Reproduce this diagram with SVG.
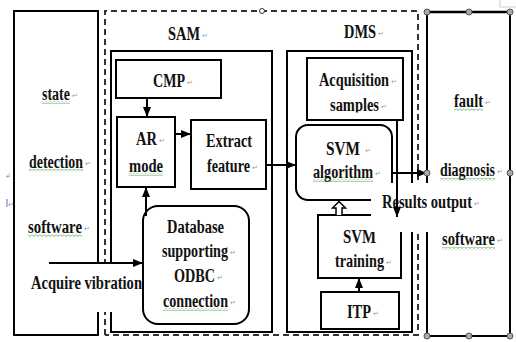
<svg xmlns="http://www.w3.org/2000/svg" width="516" height="342" viewBox="0 0 516 342">
  <style>
    .box { fill: none; stroke: #000; stroke-width: 2; }
    .dash { fill: none; stroke: #333; stroke-width: 2; stroke-dasharray: 6 4; }
    .t { font-family: "Liberation Serif", "Times New Roman", serif; font-weight: bold; font-size: 18.5px; fill: #111; }
    .pm { font-family: "DejaVu Sans", sans-serif; font-size: 7px; fill: #9a9a9a; }
    .wl { fill: url(#wavy); }
    .link { fill: none; stroke: #000; stroke-width: 2; }
    .arr { marker-end: url(#head); }
    .cover { fill: #fff; stroke: none; }
    .handle { fill: #aaa; stroke: #555; stroke-width: 1; }
  </style>
  <defs>
    <marker id="head" viewBox="0 0 10 8" refX="10" refY="4" markerWidth="10" markerHeight="8" markerUnits="userSpaceOnUse" orient="auto">
      <path d="M0,0 L10,4 L0,8 Z" fill="#000"/>
    </marker>
    <pattern id="wavy" width="4" height="3" patternUnits="userSpaceOnUse">
      <path d="M0,0.5 L2,2.5 L4,0.5" fill="none" stroke="#3a9a3a" stroke-width="0.8"/>
    </pattern>
    <clipPath id="clipSamples">
      <rect x="300" y="90" width="100" height="22.5"/>
    </clipPath>
  </defs>

  <rect width="516" height="342" fill="#fff"/>
  <!-- corner tab -->
  <path d="M500,0 V7 H516" fill="none" stroke="#ccc" stroke-width="1"/>

  <!-- state detection software -->
  <g id="stateDetection">
    <path class="box" d="M98,300 V11 H14 V335 H98 V300"/>
    <text class="t" x="42" y="100" textLength="28" lengthAdjust="spacingAndGlyphs">state</text>
    <text class="pm" x="72" y="98">↵</text>
    <rect class="wl" x="42" y="101" width="28" height="3"/>
    <text class="t" x="29" y="168" textLength="54" lengthAdjust="spacingAndGlyphs">detection</text>
    <text class="pm" x="85" y="166">↵</text>
    <rect class="wl" x="29" y="169" width="54" height="3"/>
    <text class="t" x="28" y="233" textLength="54" lengthAdjust="spacingAndGlyphs">software</text>
    <text class="pm" x="84" y="231">↵</text>
    <rect class="wl" x="28" y="234" width="54" height="3"/>
  </g>

  <!-- editor marks at left margin -->
  <text class="pm" x="5" y="178">↲</text>
  <path d="M7,199 V207" stroke="#4a7ad0" stroke-width="1"/>
  <text class="pm" x="8" y="207">↵</text>

  <!-- outer dashed frame -->
  <g id="frame">
    <path class="dash" d="M105,335 V11 H418 V335 H105"/>
    <circle cx="262" cy="11" r="2.5" fill="#fff" stroke="#333" stroke-width="1"/>
  </g>

  <!-- SAM -->
  <g id="sam">
    <path class="box" d="M111,300 V51 H272 V332 H111 V300"/>
    <text class="t" x="168" y="40" textLength="32" lengthAdjust="spacingAndGlyphs">SAM</text>
    <text class="pm" x="202" y="38">↵</text>
  </g>

  <g id="cmp">
    <rect class="box" x="116" y="60" width="105" height="38"/>
    <text class="t" x="153" y="87" textLength="32" lengthAdjust="spacingAndGlyphs">CMP</text>
    <text class="pm" x="187" y="85">↵</text>
  </g>

  <g id="arMode">
    <rect class="box" x="117" y="117" width="58" height="70"/>
    <text class="t" x="136" y="145" textLength="21" lengthAdjust="spacingAndGlyphs">AR</text>
    <text class="pm" x="159" y="143">↵</text>
    <text class="t" x="129" y="172" textLength="34" lengthAdjust="spacingAndGlyphs">mode</text>
    <rect class="wl" x="129" y="173" width="34" height="3"/>
  </g>

  <g id="extractFeature">
    <rect class="box" x="191" y="120" width="75" height="69"/>
    <text class="t" x="206" y="147" textLength="46" lengthAdjust="spacingAndGlyphs">Extract</text>
    <text class="t" x="207" y="172" textLength="43" lengthAdjust="spacingAndGlyphs">feature</text>
    <text class="pm" x="252" y="170">↵</text>
  </g>

  <g id="database">
    <rect class="box" x="143" y="206" width="106" height="118" rx="15" ry="15"/>
    <text class="t" x="167" y="233" textLength="57" lengthAdjust="spacingAndGlyphs">Database</text>
    <text class="t" x="162" y="257" textLength="66" lengthAdjust="spacingAndGlyphs">supporting</text>
    <text class="pm" x="230" y="255">↵</text>
    <text class="t" x="174" y="282" textLength="41" lengthAdjust="spacingAndGlyphs">ODBC</text>
    <text class="pm" x="217" y="280">↵</text>
    <text class="t" x="163" y="307" textLength="65" lengthAdjust="spacingAndGlyphs">connection</text>
    <text class="pm" x="230" y="305">↵</text>
    <rect class="wl" x="163" y="308" width="65" height="3"/>
  </g>

  <!-- DMS -->
  <g id="dms">
    <path class="box" d="M412,200 V51 H287 V332 H412 V200"/>
    <text class="t" x="344" y="38" textLength="32" lengthAdjust="spacingAndGlyphs">DMS</text>
    <text class="pm" x="378" y="36">↵</text>
  </g>

  <g id="acquisitionSamples">
    <rect class="box" x="307" y="58" width="96" height="62"/>
    <text class="t" x="319" y="86" textLength="70" lengthAdjust="spacingAndGlyphs">Acquisition</text>
    <text class="pm" x="391" y="84">↵</text>
    <text class="t" x="330" y="111" textLength="49" lengthAdjust="spacingAndGlyphs" clip-path="url(#clipSamples)">samples</text>
    <text class="pm" x="381" y="109">↵</text>
  </g>

  <g id="svmAlgorithm">
    <rect class="box" x="296" y="125" width="96" height="75" rx="12" ry="12"/>
    <text class="t" x="326" y="155" textLength="34" lengthAdjust="spacingAndGlyphs">SVM</text>
    <text class="pm" x="365" y="153">↵</text>
    <text class="t" x="313" y="178" textLength="60" lengthAdjust="spacingAndGlyphs">algorithm</text>
    <text class="pm" x="375" y="176">↵</text>
    <rect class="wl" x="313" y="179" width="60" height="3"/>
  </g>

  <g id="svmTraining">
    <rect class="box" x="318" y="215" width="83" height="63"/>
    <text class="t" x="343" y="243" textLength="33" lengthAdjust="spacingAndGlyphs">SVM</text>
    <text class="t" x="335" y="267" textLength="49" lengthAdjust="spacingAndGlyphs">training</text>
    <text class="pm" x="386" y="265">↵</text>
  </g>

  <g id="itp">
    <rect class="box" x="321" y="292" width="78" height="37"/>
    <text class="t" x="347" y="318" textLength="24" lengthAdjust="spacingAndGlyphs">ITP</text>
    <text class="pm" x="373" y="316">↵</text>
  </g>

  <!-- fault diagnosis software -->
  <g id="faultDiagnosis">
    <rect class="box" x="427" y="12" width="83" height="324"/>
    <path d="M427,12 H510" stroke="#000" stroke-width="2.5"/>
    <text class="t" x="454" y="107" textLength="29" lengthAdjust="spacingAndGlyphs">fault</text>
    <text class="pm" x="485" y="105">↵</text>
    <rect class="wl" x="454" y="108" width="29" height="3"/>
    <text class="t" x="440" y="176" textLength="55" lengthAdjust="spacingAndGlyphs">diagnosis</text>
    <text class="pm" x="497" y="174">↵</text>
    <rect class="wl" x="440" y="178" width="55" height="3"/>
    <text class="t" x="442" y="245" textLength="53" lengthAdjust="spacingAndGlyphs">software</text>
    <text class="pm" x="497" y="243">↵</text>
    <rect class="wl" x="442" y="247" width="53" height="3"/>
  </g>

  <!-- label boxes that sit over the frame lines -->
  <g id="acquireVibration">
    <rect class="cover" x="20" y="262" width="121" height="50"/>
    <text class="t" x="31" y="289" textLength="111" lengthAdjust="spacingAndGlyphs">Acquire vibration</text>
  </g>
  <g id="resultsOutput">
    <rect class="cover" x="371" y="183" width="130" height="49"/>
    <text class="t" x="382" y="208" textLength="90" lengthAdjust="spacingAndGlyphs">Results output</text>
    <text class="pm" x="474" y="206">↵</text>
  </g>

  <!-- connectors -->
  <g id="connectors">
    <line class="link arr" x1="147" y1="98" x2="147" y2="117"/>
    <line class="link arr" x1="175" y1="134" x2="191" y2="134"/>
    <line class="link arr" x1="266" y1="165" x2="296" y2="165"/>
    <line class="link arr" x1="392" y1="173" x2="427" y2="173"/>
    <line class="link arr" x1="397" y1="120" x2="397" y2="217"/>
    <line class="link arr" x1="359" y1="292" x2="359" y2="278"/>
    <line class="link arr" x1="146" y1="216" x2="146" y2="187"/>
    <line class="link arr" x1="49" y1="263" x2="143" y2="263"/>
    <!-- hollow arrow from training up to the algorithm -->
    <path d="M336,215 V208 H332.5 L339,201.5 L345.5,208 H342 V215" fill="#fff" stroke="#000" stroke-width="1.5"/>
  </g>

  <!-- selection handles -->
  <g id="handles">
    <circle class="handle" cx="427" cy="12" r="3"/>
    <circle class="handle" cx="469" cy="12" r="3"/>
    <circle class="handle" cx="510" cy="12" r="3"/>
    <circle class="handle" cx="427" cy="173" r="3"/>
    <circle class="handle" cx="510" cy="173" r="3"/>
    <circle class="handle" cx="427" cy="336" r="3"/>
    <circle class="handle" cx="469" cy="336" r="3"/>
    <circle class="handle" cx="510" cy="336" r="3"/>
  </g>
</svg>
